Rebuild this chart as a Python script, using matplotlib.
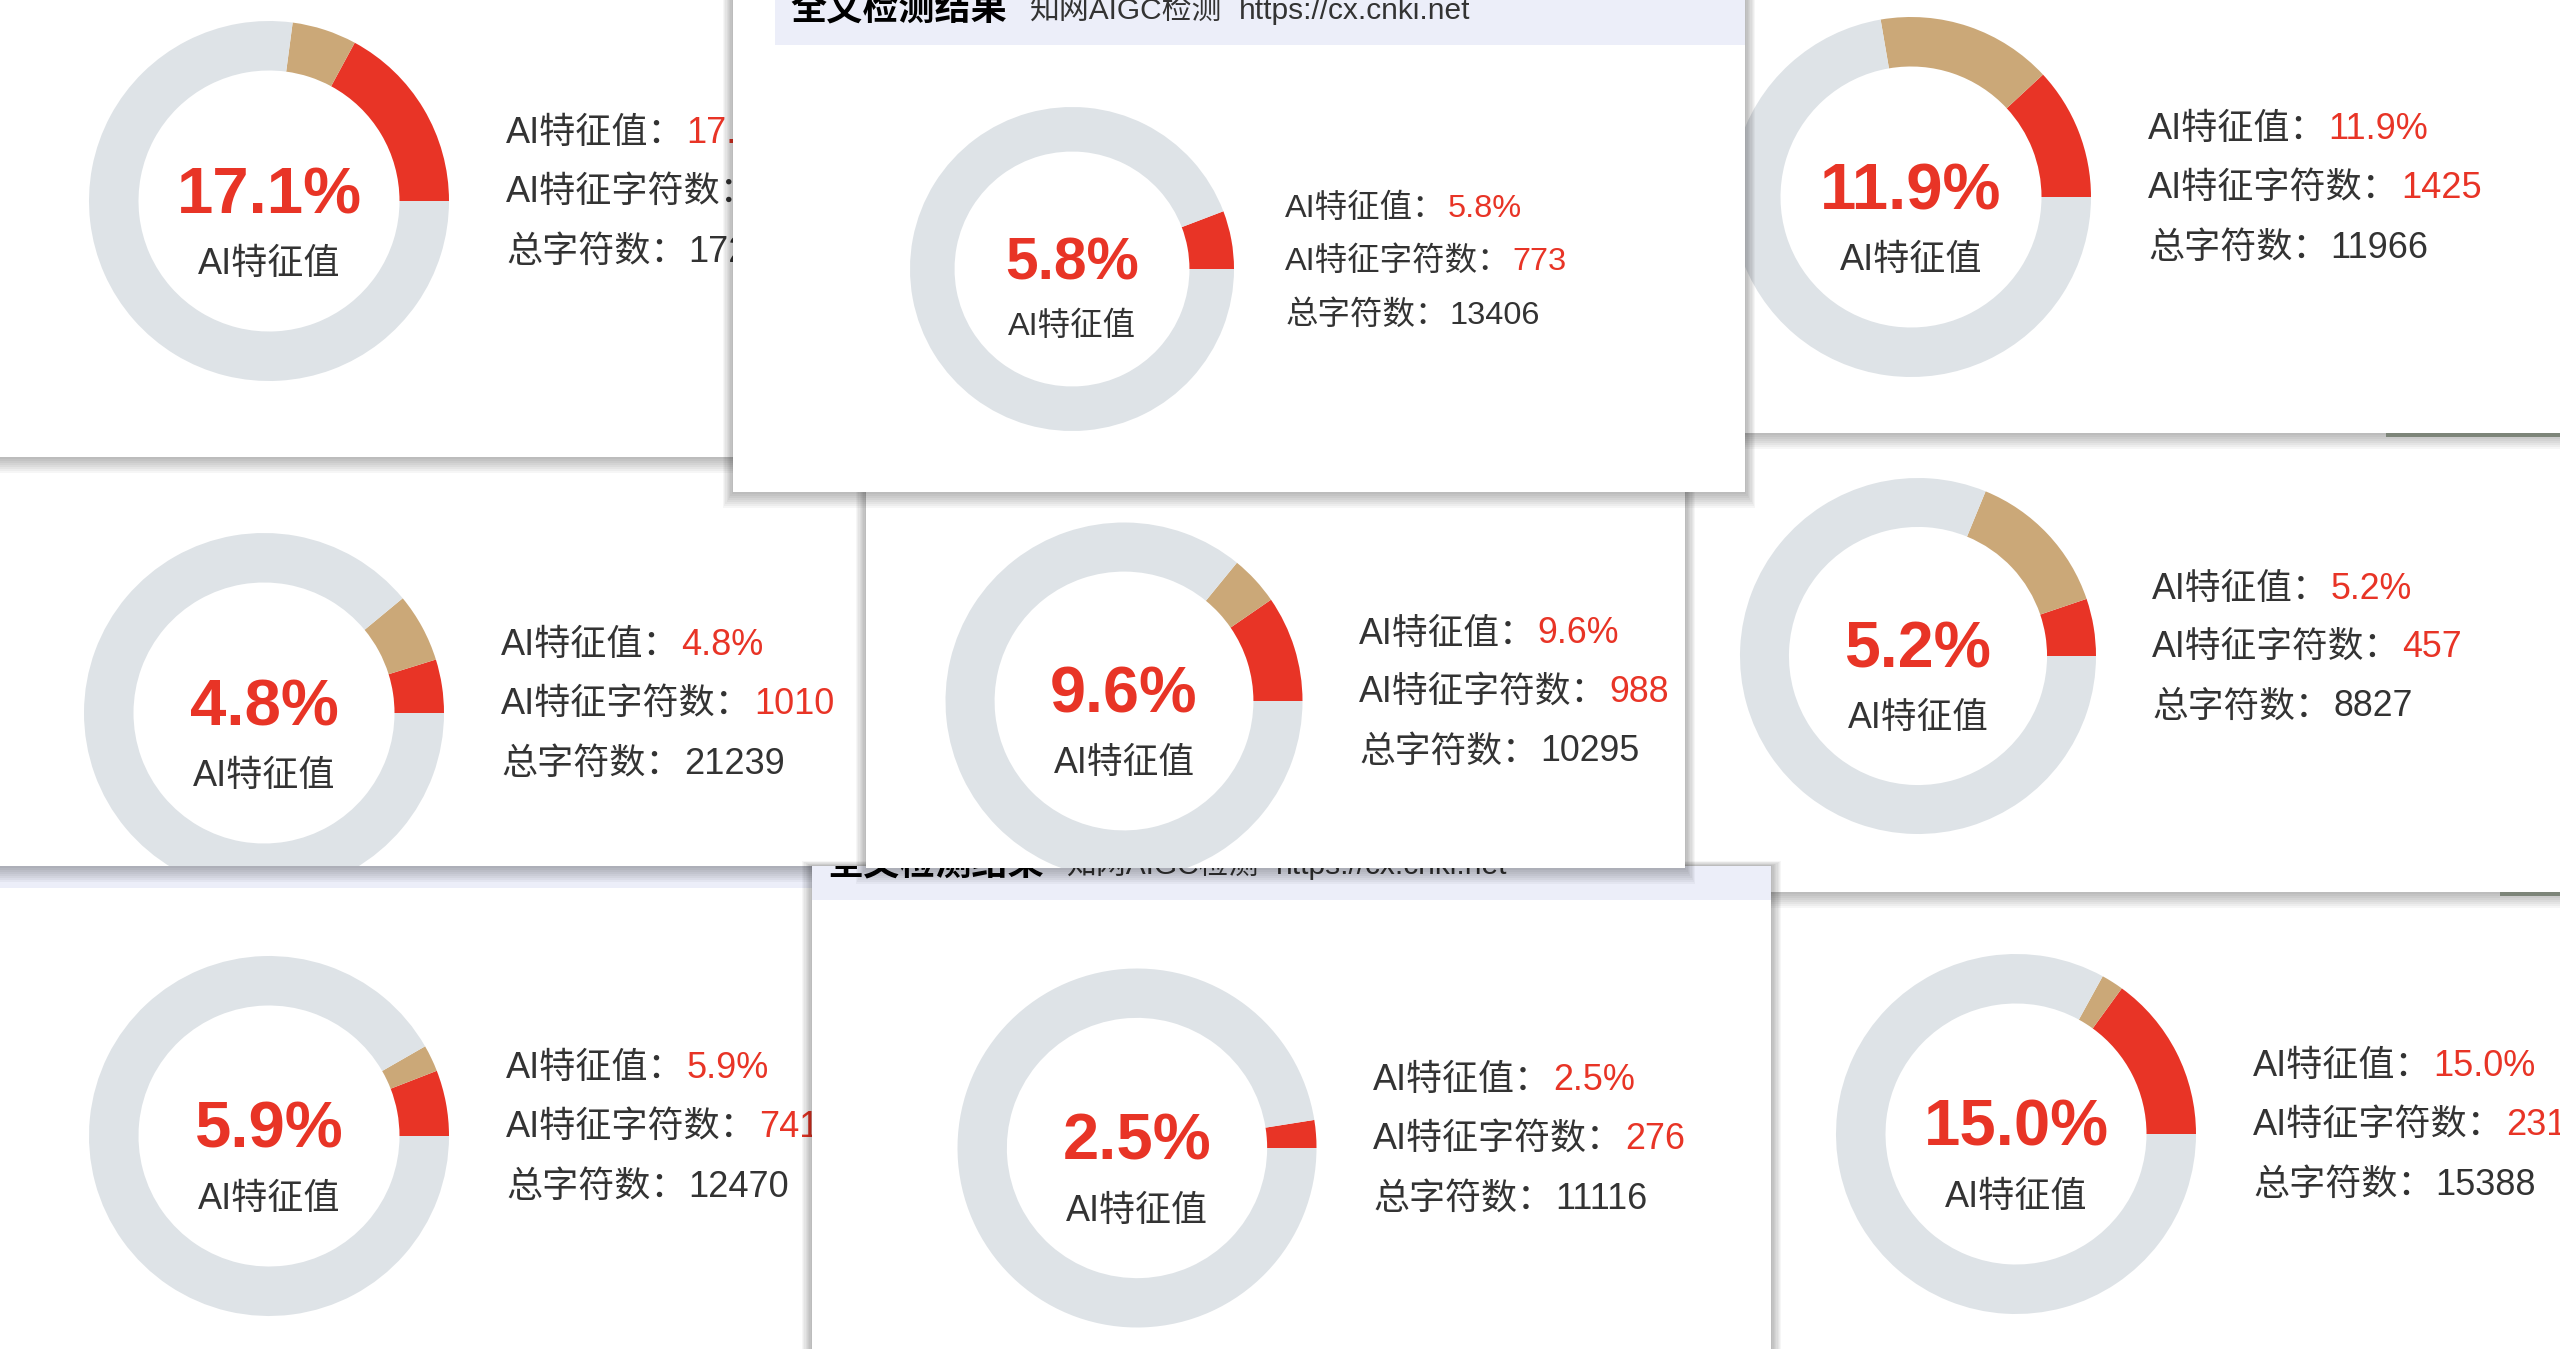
import matplotlib
matplotlib.use("Agg")
import matplotlib.pyplot as plt
from matplotlib.patches import Rectangle

W, H = 2560, 1349

# nine CNKI AIGC result cards, listed from the bottom layer up
ai_pct = [5.9, 15.0, 4.8, 5.2, 2.5, 17.1, 11.9, 9.6, 5.8]
other_pct = [2.4, 2.0, 6.2, 13.6, 0.0, 5.8, 15.8, 4.5, 0.0]
ai_chars = [741, 2312, 1010, 457, 276, 2949, 1425, 988, 773]
total_chars = [12470, 15388, 21239, 8827, 11116, 17245, 11966, 10295, 13406]

header_title = "全文检测结果"
header_sub = "知网AIGC检测"
header_url = "https://cx.cnki.net"
lbl_value = "AI特征值："
lbl_ai_chars = "AI特征字符数："
lbl_total = "总字符数："
centre_label = "AI特征值"

# card geometry in picture pixels: box (left, top, right, bottom), donut centre, radius
boxes = [(-30, 850, 812, 1380), (1760, 880, 2590, 1380), (-30, 440, 866, 866),
         (1685, 425, 2590, 892), (812, 866, 1771, 1380), (-30, -30, 760, 457),
         (1740, -30, 2590, 433), (866, 470, 1685, 868), (733, -30, 1745, 492)]
centres = [(269, 1136), (2016, 1134), (264, 713), (1918, 656), (1137, 1148),
           (269, 201), (1911, 197), (1124, 701), (1072, 269)]
radii = [180, 180, 180, 178, 179.5, 180, 180, 178.5, 162]
# header bands; only the uncovered ones carry readable text
headers = {0: (-30, 850, 812, 888), 4: (812, 866, 1771, 900), 8: (775, -30, 1745, 45)}
header_text = [4, 8]

RED = "#e83426"
TAN = "#cba878"
RING = "#dee3e7"
TXT = "#333333"
LAV = "#eceef9"
FONT = ["Liberation Sans", "Noto Sans CJK SC"]


def rect(l, t, r, b, **kw):
    return Rectangle((l, H - b), r - l, b - t, **kw)


fig = plt.figure(figsize=(25.6, 13.49), dpi=100)
ax = fig.add_axes([0, 0, 1, 1])
fig.patch.set_facecolor("white")
renderer = fig.canvas.get_renderer()


def put(x, y, s, clip, z, **kw):
    t = ax.text(x, H - y, s, family=FONT, zorder=z, clip_on=True, **kw)
    t.set_clip_path(clip)
    return t


for i, (l, t, r, b) in enumerate(boxes):
    z = 10 + i * 10
    # soft window shadow, a bit heavier below the card
    for k in range(1, 9):
        e = k * 1.3
        ax.add_patch(rect(l - e, t - e + k * 0.7, r + e, b + e + k * 0.7,
                          facecolor="black", alpha=0.035, linewidth=0, zorder=z))
    card = rect(l, t, r, b, facecolor="white", linewidth=0, zorder=z + 1)
    ax.add_patch(card)

    if i in headers:
        hl, ht, hr, hb = headers[i]
        band = rect(hl, ht, hr, hb, facecolor=LAV, linewidth=0, zorder=z + 2)
        ax.add_patch(band)
        band.set_clip_path(card)
        if i in header_text:
            x0 = hl + 15
            base = hb - 26
            tt = put(x0, base, header_title, card, z + 4, fontsize=26, fontweight="bold",
                     color="black", va="baseline")
            x1 = x0 + tt.get_window_extent(renderer).width + 22
            ts = put(x1, base, header_sub, card, z + 4, fontsize=21.5, color=TXT,
                     va="baseline")
            x2 = x1 + ts.get_window_extent(renderer).width + 18
            put(x2, base, header_url, card, z + 4, fontsize=21.5, color=TXT, va="baseline")

    cx, cy = centres[i]
    rad = radii[i]
    s = rad / 180.0
    rest = 100 - ai_pct[i] - other_pct[i]
    wedges, _ = ax.pie([ai_pct[i], other_pct[i], rest], colors=[RED, TAN, RING],
                       startangle=0, counterclock=True, radius=rad, center=(cx, H - cy),
                       wedgeprops=dict(width=0.275 * rad, linewidth=0), frame=True)
    for w in wedges:
        w.set_zorder(z + 3)
        w.set_clip_on(True)
        w.set_clip_path(card)

    put(cx, cy + 12 * s, f"{ai_pct[i]:.1f}%", card, z + 4, fontsize=47 * s,
        fontweight="bold", color=RED, ha="center", va="baseline")
    put(cx, cy + 73 * s, centre_label, card, z + 4, fontsize=26 * s, color=TXT,
        ha="center", va="baseline")

    lx = cx + 237 * s
    rows = [(lbl_value, f"{ai_pct[i]:.1f}%", RED, -58),
            (lbl_ai_chars, f"{ai_chars[i]}", RED, 1),
            (lbl_total, f"{total_chars[i]}", TXT, 61)]
    for lab, val, col, dy in rows:
        tl = put(lx, cy + dy * s, lab, card, z + 4, fontsize=26 * s, color=TXT,
                 va="baseline")
        wpx = tl.get_window_extent(renderer).width
        put(lx + wpx + 2 * s, cy + dy * s, val, card, z + 4, fontsize=26 * s,
            color=col, va="baseline")

# dark strips along two lower edges on the right
ax.add_patch(rect(2386, 433, 2600, 437, facecolor="#7d8579", linewidth=0, zorder=75))
ax.add_patch(rect(2500, 892, 2600, 896, facecolor="#7d8579", linewidth=0, zorder=45))

ax.set_xlim(0, W)
ax.set_ylim(0, H)
ax.set_aspect("auto")
ax.axis("off")

fig.savefig("out.png", dpi=100, facecolor="white")
